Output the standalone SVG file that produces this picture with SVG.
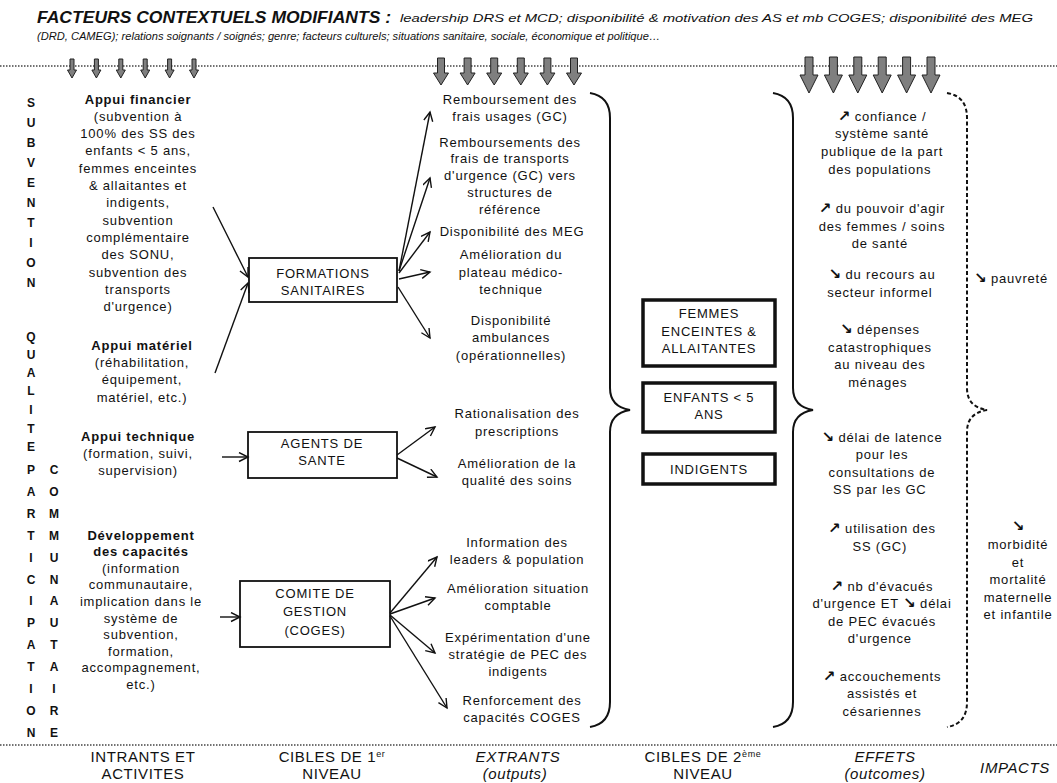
<svg xmlns="http://www.w3.org/2000/svg" width="1057" height="783" viewBox="0 0 1057 783">
<style>
text{font-family:"Liberation Sans",Arial,sans-serif;fill:#111}
.t{font-size:13px;letter-spacing:0.8px;text-anchor:middle}
.b{font-weight:bold}
.i{font-style:italic}
.v{font-size:12px;font-weight:bold;text-anchor:middle}
.lab{font-size:15px;letter-spacing:0.6px;text-anchor:middle}
.ar{font-family:"DejaVu Sans",sans-serif;font-weight:bold;font-size:15px;letter-spacing:0}
.box1{fill:#fff;stroke:#111;stroke-width:1.8}
.box2{fill:#fff;stroke:#111;stroke-width:3.5}
.con{stroke:#111;stroke-width:1.4;fill:none;marker-end:url(#ah)}
.brace{fill:none;stroke:#111;stroke-width:2}
.dash{stroke-dasharray:4 2.5}
.dot{stroke:#444;stroke-width:1.4;stroke-dasharray:1.5 1.5}
.barrow{fill:#7f7f7f;stroke:#222;stroke-width:1}
</style>
<defs>
<marker id="ah" markerUnits="userSpaceOnUse" markerWidth="12" markerHeight="12" refX="10" refY="5" orient="auto">
<path d="M1,0.5 L10,5 L1,9.5" fill="none" stroke="#111" stroke-width="1.4"/>
</marker>
<path id="a1" class="barrow" d="M-2,0 H2 V11 H4.5 L0,19 L-4.5,11 H-2 Z"/>
<path id="a2" class="barrow" d="M-3.5,0 H3.5 V15 H7.5 L0,27 L-7.5,15 H-3.5 Z"/>
<path id="a3" class="barrow" d="M-4,0 H4 V18 H9 L0,36 L-9,18 H-4 Z"/>
<path id="br" class="brace" d="M590,93 C602,95 610,102 610,118 L610,388 C610,402 618,408 630,410 C618,412 610,418 610,432 L610,702 C610,718 602,725 590,727"/>
</defs>

<g id="header">
<text x="37" y="23" font-size="17" font-weight="bold" font-style="italic" textLength="354" lengthAdjust="spacingAndGlyphs">FACTEURS CONTEXTUELS MODIFIANTS :</text>
<text x="400" y="22" font-size="11" font-style="italic" textLength="633" lengthAdjust="spacingAndGlyphs">leadership DRS et MCD; disponibilité &amp; motivation des AS et mb COGES; disponibilité des MEG</text>
<text x="37" y="40" font-size="11" font-style="italic" textLength="623" lengthAdjust="spacingAndGlyphs">(DRD, CAMEG); relations soignants / soignés; genre; facteurs culturels; situations sanitaire, sociale, économique et politique…</text>
</g>

<g id="separators">
<line class="dot" x1="0" y1="66" x2="1057" y2="66"/>
<line class="dot" x1="0" y1="745" x2="1057" y2="745"/>
</g>

<g id="factor-arrows">
<use href="#a1" x="72" y="59"/><use href="#a1" x="96.4" y="59"/><use href="#a1" x="120.8" y="59"/><use href="#a1" x="145.2" y="59"/><use href="#a1" x="169.6" y="59"/><use href="#a1" x="194" y="59"/>
<use href="#a2" x="441" y="58"/><use href="#a2" x="467.6" y="58"/><use href="#a2" x="494.2" y="58"/><use href="#a2" x="520.8" y="58"/><use href="#a2" x="547.4" y="58"/><use href="#a2" x="574" y="58"/>
<use href="#a3" x="809" y="57"/><use href="#a3" x="833.4" y="57"/><use href="#a3" x="857.8" y="57"/><use href="#a3" x="882.2" y="57"/><use href="#a3" x="906.6" y="57"/><use href="#a3" x="931" y="57"/>
</g>

<g id="vertical-labels">
<text class="v"><tspan x="31" y="107">S</tspan><tspan x="31" y="127">U</tspan><tspan x="31" y="147">B</tspan><tspan x="31" y="167">V</tspan><tspan x="31" y="187">E</tspan><tspan x="31" y="207">N</tspan><tspan x="31" y="227">T</tspan><tspan x="31" y="247">I</tspan><tspan x="31" y="267">O</tspan><tspan x="31" y="287">N</tspan></text>
<text class="v"><tspan x="31" y="341">Q</tspan><tspan x="31" y="359">U</tspan><tspan x="31" y="377">A</tspan><tspan x="31" y="395">L</tspan><tspan x="31" y="414">I</tspan><tspan x="31" y="433">T</tspan><tspan x="31" y="451">E</tspan></text>
<text class="v"><tspan x="31" y="474">P</tspan><tspan x="31" y="496">A</tspan><tspan x="31" y="518">R</tspan><tspan x="31" y="540">T</tspan><tspan x="31" y="562">I</tspan><tspan x="31" y="584">C</tspan><tspan x="31" y="605">I</tspan><tspan x="31" y="627">P</tspan><tspan x="31" y="649">A</tspan><tspan x="31" y="671">T</tspan><tspan x="31" y="693">I</tspan><tspan x="31" y="715">O</tspan><tspan x="31" y="737">N</tspan></text>
<text class="v"><tspan x="54" y="474">C</tspan><tspan x="54" y="496">O</tspan><tspan x="54" y="518">M</tspan><tspan x="54" y="540">M</tspan><tspan x="54" y="562">U</tspan><tspan x="54" y="584">N</tspan><tspan x="54" y="605">A</tspan><tspan x="54" y="627">U</tspan><tspan x="54" y="649">T</tspan><tspan x="54" y="671">A</tspan><tspan x="54" y="693">I</tspan><tspan x="54" y="715">R</tspan><tspan x="54" y="737">E</tspan></text>
</g>

<g id="inputs">
<text class="t"><tspan class="b" x="138" y="103.5">Appui financier</tspan><tspan x="138" y="120.8">(subvention à</tspan><tspan x="138" y="138.1">100% des SS des</tspan><tspan x="138" y="155.4">enfants &lt; 5 ans,</tspan><tspan x="138" y="172.7">femmes enceintes</tspan><tspan x="138" y="190">&amp; allaitantes et</tspan><tspan x="138" y="207.3">indigents,</tspan><tspan x="138" y="224.6">subvention</tspan><tspan x="138" y="241.9">complémentaire</tspan><tspan x="138" y="259.2">des SONU,</tspan><tspan x="138" y="276.5">subvention des</tspan><tspan x="138" y="293.8">transports</tspan><tspan x="138" y="311.1">d'urgence)</tspan></text>
<text class="t"><tspan class="b" x="142" y="349.5">Appui matériel</tspan><tspan x="142" y="366.5">(réhabilitation,</tspan><tspan x="142" y="384">équipement,</tspan><tspan x="142" y="401.5">matériel, etc.)</tspan></text>
<text class="t"><tspan class="b" x="138" y="440.5">Appui technique</tspan><tspan x="138" y="457.5">(formation, suivi,</tspan><tspan x="138" y="474.5">supervision)</tspan></text>
<text class="t"><tspan class="b" x="141" y="539.5">Développement</tspan><tspan class="b" x="141" y="556.1">des capacités</tspan><tspan x="141" y="572.7">(information</tspan><tspan x="141" y="589.3">communautaire,</tspan><tspan x="141" y="605.9">implication dans le</tspan><tspan x="141" y="622.5">système de</tspan><tspan x="141" y="639.1">subvention,</tspan><tspan x="141" y="655.7">formation,</tspan><tspan x="141" y="672.3">accompagnement,</tspan><tspan x="141" y="688.9">etc.)</tspan></text>
</g>

<g id="fs">
<rect class="box1" x="249" y="258" width="148" height="44"/>
<text class="t"><tspan x="323" y="277.5">FORMATIONS</tspan><tspan x="323" y="294.5">SANITAIRES</tspan></text>
</g>
<g id="as">
<rect class="box1" x="248" y="432" width="149" height="46"/>
<text class="t"><tspan x="322" y="447.5">AGENTS DE</tspan><tspan x="322" y="464.5">SANTE</tspan></text>
</g>
<g id="coges">
<rect class="box1" x="240" y="581" width="150" height="66"/>
<text class="t"><tspan x="315" y="597.5">COMITE DE</tspan><tspan x="315" y="616">GESTION</tspan><tspan x="315" y="634.5">(COGES)</tspan></text>
</g>

<g id="connectors">
<line class="con" x1="213" y1="207" x2="248" y2="277"/>
<line class="con" x1="215" y1="373" x2="248" y2="283"/>
<line class="con" x1="222" y1="457" x2="248" y2="457"/>
<line class="con" x1="220" y1="617" x2="240" y2="617"/>
<line class="con" x1="399" y1="271" x2="430" y2="112"/>
<line class="con" x1="399" y1="271" x2="430" y2="178"/>
<line class="con" x1="399" y1="273" x2="430" y2="232"/>
<line class="con" x1="399" y1="279" x2="430" y2="272"/>
<line class="con" x1="398" y1="287" x2="430" y2="338"/>
<line class="con" x1="397" y1="455" x2="435" y2="427"/>
<line class="con" x1="397" y1="458" x2="437" y2="477"/>
<line class="con" x1="390" y1="613" x2="437" y2="557"/>
<line class="con" x1="390" y1="614" x2="435" y2="598"/>
<line class="con" x1="390" y1="615" x2="435" y2="653"/>
<line class="con" x1="390" y1="616" x2="447" y2="708"/>
</g>

<g id="extrants">
<text class="t"><tspan x="510" y="103.5">Remboursement des</tspan><tspan x="510" y="120.5">frais usages (GC)</tspan><tspan x="510" y="146.5">Remboursements des</tspan><tspan x="510" y="163">frais de transports</tspan><tspan x="510" y="179.5">d'urgence (GC) vers</tspan><tspan x="510" y="196.5">structures de</tspan><tspan x="510" y="213.5">référence</tspan><tspan x="512" y="235.5">Disponibilité des MEG</tspan><tspan x="511" y="258.5">Amélioration du</tspan><tspan x="511" y="276.5">plateau médico-</tspan><tspan x="511" y="293.5">technique</tspan><tspan x="511" y="324.5">Disponibilité</tspan><tspan x="511" y="341.5">ambulances</tspan><tspan x="511" y="359.5">(opérationnelles)</tspan></text>
<text class="t"><tspan x="517" y="417.5">Rationalisation des</tspan><tspan x="517" y="435.5">prescriptions</tspan><tspan x="517" y="467.5">Amélioration de la</tspan><tspan x="517" y="484.5">qualité des soins</tspan></text>
<text class="t"><tspan x="517" y="546.5">Information des</tspan><tspan x="517" y="563.5">leaders &amp; population</tspan><tspan x="518" y="592.5">Amélioration situation</tspan><tspan x="518" y="609.5">comptable</tspan><tspan x="518" y="641.5">Expérimentation d'une</tspan><tspan x="518" y="658.5">stratégie de PEC des</tspan><tspan x="518" y="675.5">indigents</tspan><tspan x="522" y="704.5">Renforcement des</tspan><tspan x="522" y="721.5">capacités COGES</tspan></text>
</g>

<g id="braces">
<use href="#br"/>
<use href="#br" transform="translate(183,0)"/>
<use href="#br" class="dash" transform="translate(357,0)"/>
</g>

<g id="femmes">
<rect class="box2" x="643" y="300" width="132" height="66"/>
<text class="t"><tspan x="709" y="317.5">FEMMES</tspan><tspan x="709" y="335.5">ENCEINTES &amp;</tspan><tspan x="709" y="352.5">ALLAITANTES</tspan></text>
</g>
<g id="enfants">
<rect class="box2" x="643" y="383" width="132" height="49"/>
<text class="t"><tspan x="709" y="401.5">ENFANTS &lt; 5</tspan><tspan x="709" y="418.5">ANS</tspan></text>
</g>
<g id="indigents">
<rect class="box2" x="643" y="454" width="132" height="30"/>
<text class="t"><tspan x="709" y="473.5">INDIGENTS</tspan></text>
</g>

<g id="effets">
<text class="t"><tspan x="882" y="120.5"><tspan class="ar">↗</tspan> confiance /</tspan><tspan x="882" y="137.5">système santé</tspan><tspan x="882" y="156">publique de la part</tspan><tspan x="882" y="173.5">des populations</tspan>
<tspan x="882" y="212.5"><tspan class="ar">↗</tspan> du pouvoir d'agir</tspan><tspan x="882" y="230.5">des femmes / soins</tspan><tspan x="882" y="247.5">de santé</tspan>
<tspan x="882" y="278.5"><tspan class="ar">↘</tspan> du recours au</tspan><tspan x="882" y="296.5">secteur informel</tspan>
<tspan x="880" y="333.5"><tspan class="ar">↘</tspan> dépenses</tspan><tspan x="880" y="351.5">catastrophiques</tspan><tspan x="880" y="368.5">au niveau des</tspan><tspan x="880" y="386.5">ménages</tspan>
<tspan x="882" y="441.5"><tspan class="ar">↘</tspan> délai de latence</tspan><tspan x="882" y="458.5">pour les</tspan><tspan x="882" y="476.5">consultations de</tspan><tspan x="882" y="493.5">SS par les GC</tspan>
<tspan x="882" y="532.5"><tspan class="ar">↗</tspan> utilisation des</tspan><tspan x="882" y="550.5">SS (GC)</tspan>
<tspan x="882" y="590.5"><tspan class="ar">↗</tspan> nb d'évacués</tspan><tspan x="882" y="607.5">d'urgence  ET <tspan class="ar">↘</tspan> délai</tspan><tspan x="882" y="625.5">de PEC évacués</tspan><tspan x="882" y="642.5">d'urgence</tspan>
<tspan x="882" y="680.5"><tspan class="ar">↗</tspan> accouchements</tspan><tspan x="882" y="697.5">assistés et</tspan><tspan x="882" y="715.5">césariennes</tspan></text>
</g>

<g id="impacts">
<text class="t"><tspan x="1011" y="282.5"><tspan class="ar">↘</tspan> pauvreté</tspan></text>
<text class="t"><tspan class="ar" x="1018" y="530.5">↘</tspan><tspan x="1018" y="548.5">morbidité</tspan><tspan x="1018" y="566.5">et</tspan><tspan x="1018" y="583.5">mortalité</tspan><tspan x="1018" y="601.5">maternelle</tspan><tspan x="1018" y="618.5">et infantile</tspan></text>
</g>

<g id="column-labels">
<text class="lab"><tspan x="143" y="762">INTRANTS ET</tspan><tspan x="143" y="779">ACTIVITES</tspan></text>
<text class="lab"><tspan x="332" y="762">CIBLES  DE 1<tspan font-size="9" dy="-5">er</tspan></tspan><tspan x="332" y="779">NIVEAU</tspan></text>
<text class="lab i"><tspan x="518" y="762">EXTRANTS</tspan><tspan x="515" y="779">(outputs)</tspan></text>
<text class="lab"><tspan x="703" y="762">CIBLES  DE 2<tspan font-size="9" dy="-5">ème</tspan></tspan><tspan x="703" y="779">NIVEAU</tspan></text>
<text class="lab i"><tspan x="885" y="762">EFFETS</tspan><tspan x="885" y="779">(outcomes)</tspan></text>
<text class="lab i"><tspan x="1015" y="773">IMPACTS</tspan></text>
</g>
</svg>
